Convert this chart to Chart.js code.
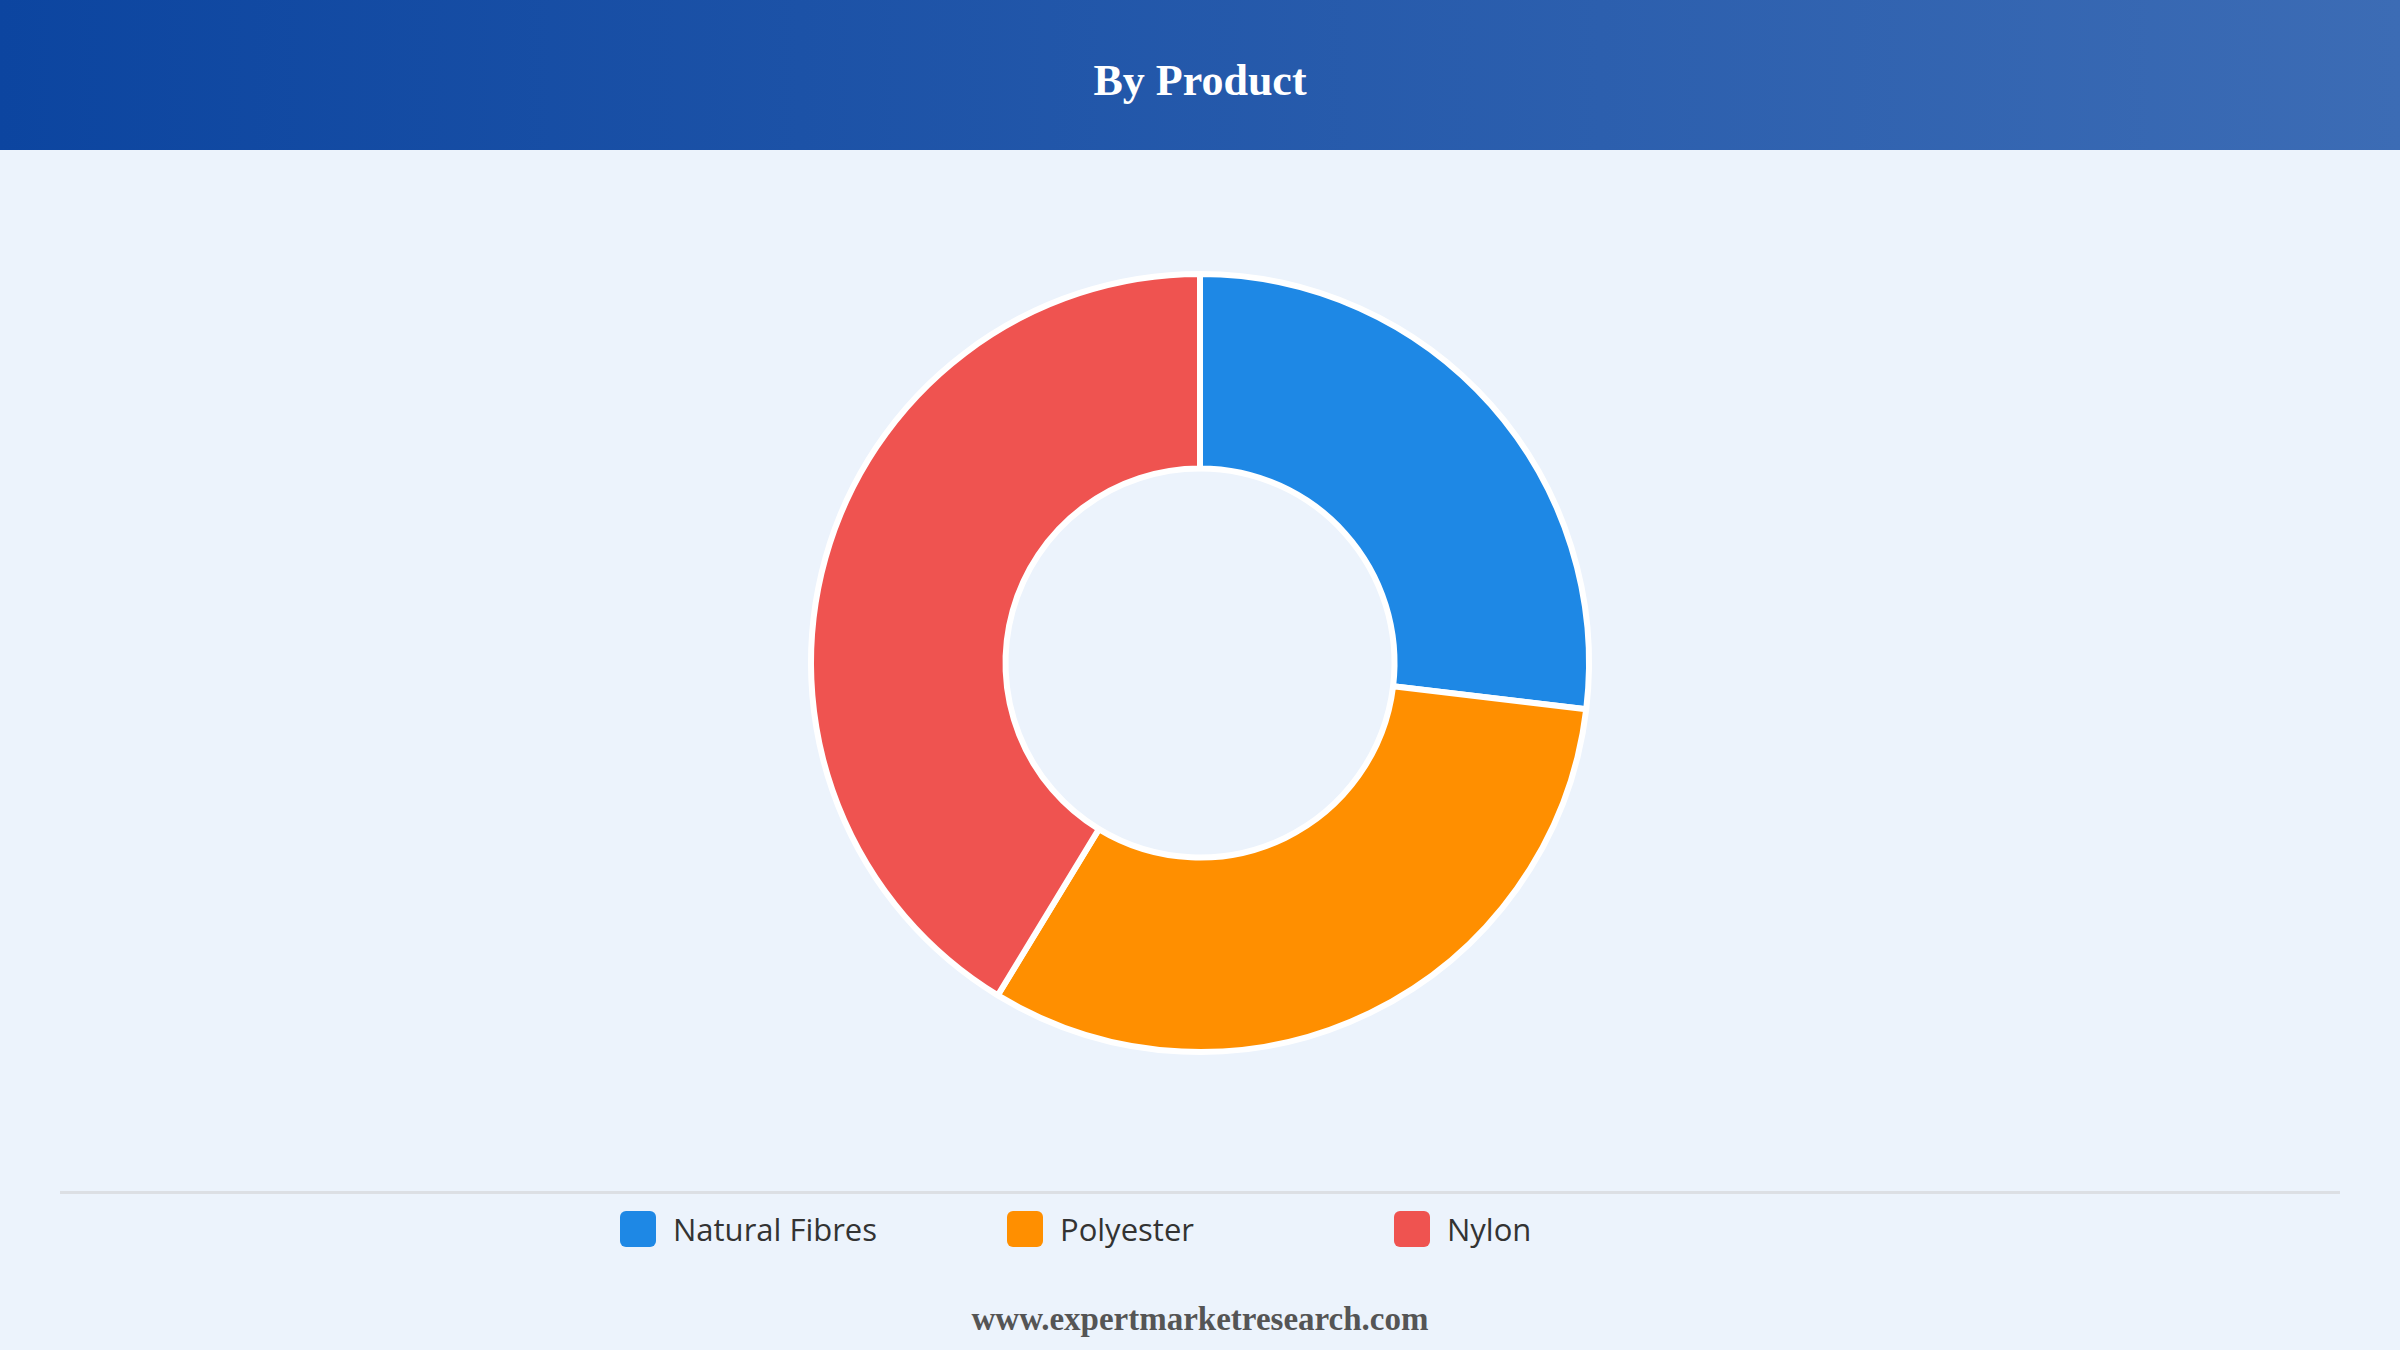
<!DOCTYPE html>
<html>
<head>
<meta charset="utf-8">
<script src="https://cdn.jsdelivr.net/npm/chart.js@4.4.1/dist/chart.umd.min.js"></script>
<style>
  html, body { margin: 0; padding: 0; }
  body { width: 2400px; height: 1350px; background: #ECF3FC; position: relative; overflow: hidden; }
  .header {
    position: absolute; left: 0; top: 0; width: 2400px; height: 150px;
    background: linear-gradient(to right, #0C45A0, #3C6CB5);
    display: flex; align-items: center; justify-content: center;
  }
  .header h1 {
    margin: 0; padding-top: 10px; color: #fff; font-family: "Liberation Serif", "Times New Roman", serif;
    font-weight: bold; font-size: 44px;
  }
  .chart-box { position: absolute; left: 800px; top: 263px; width: 800px; height: 800px; }
  .divider { position: absolute; left: 60px; top: 1191px; width: 2280px; height: 3px; background: #DCDFE4; }
  .legend { position: absolute; top: 1211px; left: 620px; display: flex; }
  .legend-item { width: 387px; display: flex; align-items: center; height: 36px; }
  .legend-box { width: 36px; height: 36px; border-radius: 6px; margin-right: 17px; }
  .legend-text { font-family: "Open Sans", "Noto Sans", sans-serif; font-size: 31px; color: #333; }
  .footer {
    position: absolute; top: 1301px; left: 0; width: 2400px; text-align: center;
    font-family: "Liberation Serif", "Times New Roman", serif; font-weight: bold;
    font-size: 33px; color: #555;
  }
</style>
</head>
<body>
<div class="header"><h1>By Product</h1></div>
<div class="chart-box"><canvas id="donut"></canvas></div>
<div class="divider"></div>
<div class="legend" id="legend"></div>
<div class="footer">www.expertmarketresearch.com</div>

<script>
// ===== DADOS =====
const categorias = ['Natural Fibres', 'Polyester', 'Nylon'];
const valores    = [26.9, 31.8, 41.3];
const cores      = ['#1E88E5', '#FF8F00', '#EF5350'];

// ===== LEGENDA =====
const legend = document.getElementById('legend');
categorias.forEach((c, i) => {
  legend.innerHTML += `
    <div class="legend-item">
      <span class="legend-box" style="background:${cores[i]}"></span>
      <span class="legend-text">${c}</span>
    </div>`;
});

// ===== GRÁFICO =====
new Chart(document.getElementById('donut'), {
  type: 'doughnut',
  data: {
    labels: categorias,
    datasets: [{
      data:            valores,
      backgroundColor: cores,
      borderColor:     '#FFFFFF',
      borderWidth:     6
    }]
  },
  options: {
    responsive: true,
    maintainAspectRatio: false,
    animation: false,
    cutout: '50%',
    layout: { padding: 8 },
    plugins: { legend: { display: false }, tooltip: { enabled: false } }
  }
});
</script>
</body>
</html>
